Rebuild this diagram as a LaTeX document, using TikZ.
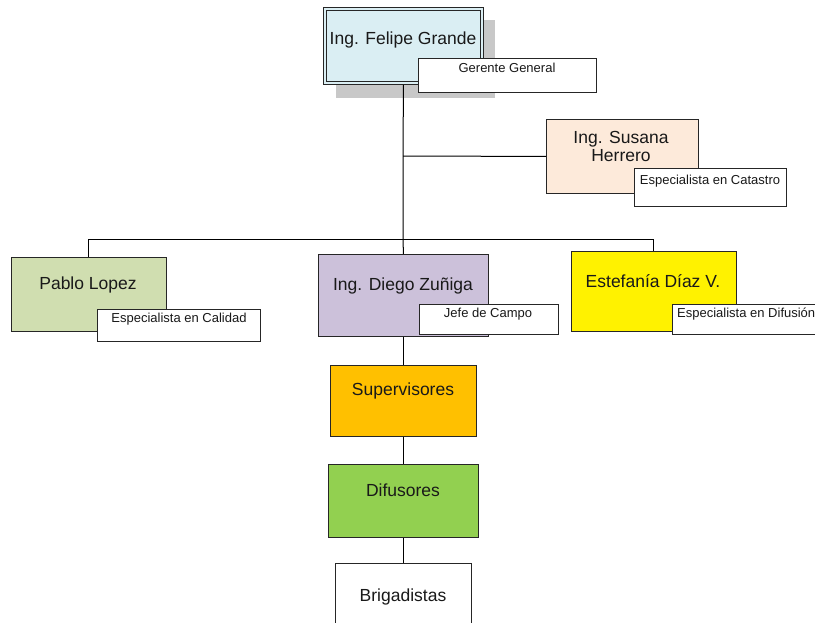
\documentclass[tikz,border=0pt]{standalone}
\usepackage{fontspec}
\setmainfont{Liberation Sans}
\begin{document}
\begin{tikzpicture}[x=1pt,y=-1pt,
  box/.style={draw=black!85, line width=0.9pt, inner sep=0pt, anchor=north west},
  tagbox/.style={box, fill=white},
  persontxt/.style={font=\fontsize{17.5}{18}\selectfont, inner sep=0pt, text=black!90, yshift=-1.5pt},
  roletxt/.style={font=\fontsize{13}{14}\selectfont, inner sep=0pt, text=black!90, yshift=-1pt},
  link/.style={draw=black, line width=1pt}]
\path[use as bounding box] (0,0) rectangle (815,622);
\clip (0,0) rectangle (815,622);
\definecolor{cFelipe}{HTML}{DAEEF3}
\definecolor{cShadow}{HTML}{C8C8C8}
\definecolor{cSusana}{HTML}{FDEADA}
\definecolor{cPablo}{HTML}{D0DEB0}
\definecolor{cDiego}{HTML}{CCC1DA}
\definecolor{cSuper}{HTML}{FFC000}
\definecolor{cDifus}{HTML}{92D050}

% shadow behind the manager box
\fill[cShadow] (336,20) rectangle (495,98);

% boxes (shapes only)
\node[box, fill=cFelipe, minimum width=160pt, minimum height=77pt] (felipe) at (323,7) {};
\node[box, fill=cSusana, minimum width=152pt, minimum height=74pt] (susana) at (546,119) {};
\node[box, fill=cPablo, minimum width=155pt, minimum height=74pt] (pablo) at (11,257) {};
\node[box, fill=cDiego, minimum width=170pt, minimum height=82pt] (diego) at (318,254) {};
\node[box, fill=yellow, minimum width=165pt, minimum height=80pt] (estefania) at (571,251) {};
\node[box, fill=cSuper, minimum width=146pt, minimum height=71pt] (super) at (330,365) {};
\node[box, fill=cDifus, minimum width=150pt, minimum height=73pt] (difus) at (328,464) {};
\node[box, fill=white, minimum width=136pt, minimum height=70pt] (briga) at (335,563) {};

% inner line of the double frame
\draw[black!85, line width=0.9pt] ([xshift=3pt,yshift=-3pt]felipe.north west) rectangle ([xshift=-3pt,yshift=3pt]felipe.south east);

% connectors
\coordinate (jS) at (403,156);
\coordinate (busL) at (pablo.north |- 0,239);
\coordinate (busM) at (403,239);
\coordinate (busR) at (estefania.north |- 0,239);
\draw[link] (felipe.south) -- (jS) -- (busM) -- (diego.north);
\draw[link] (jS) -- (susana.west);
\draw[link] (pablo.north) -- (busL) -- (busR) -- (estefania.north);
\draw[link] (diego.south) -- (super.north);
\draw[link] (super.south) -- (difus.north);
\draw[link] (difus.south) -- (briga.north);

% role tags
\node[tagbox, minimum width=178pt, minimum height=34pt] (tGerente) at (418,58) {};
\node[tagbox, minimum width=152pt, minimum height=38pt] (tCatastro) at (634,168) {};
\node[tagbox, minimum width=163pt, minimum height=32pt] (tCalidad) at (97,309) {};
\node[tagbox, minimum width=139pt, minimum height=30pt] (tJefe) at (419,304) {};
\node[tagbox, minimum width=160pt, minimum height=30pt] (tDifusion) at (672,304) {};

% names
\node[persontxt] (nFelipe) at (403,38) {Ing. Felipe Grande};
\node[persontxt, align=center] (nSusana) at (621,145) {Ing. Susana\\Herrero};
\node[persontxt] (nPablo) at (88,283) {Pablo Lopez};
\node[persontxt] (nDiego) at (403,284) {Ing. Diego Zuñiga};
\node[persontxt] (nEstefania) at (653,280) {Estefanía Díaz V.};
\node[persontxt] (nSuper) at (403,389) {Supervisores};
\node[persontxt] (nDifus) at (403,489) {Difusores};
\node[persontxt] (nBriga) at (403,595) {Brigadistas};

% role texts
\node[roletxt] (rGerente) at (507,67) {Gerente General};
\node[roletxt] (rCatastro) at (710,180) {Especialista en Catastro};
\node[roletxt] (rCalidad) at (179,318) {Especialista en Calidad};
\node[roletxt] (rJefe) at (488,313) {Jefe de Campo};
\node[roletxt, anchor=west] (rDifusion) at (677,313) {Especialista en Difusión};
\end{tikzpicture}
\end{document}
